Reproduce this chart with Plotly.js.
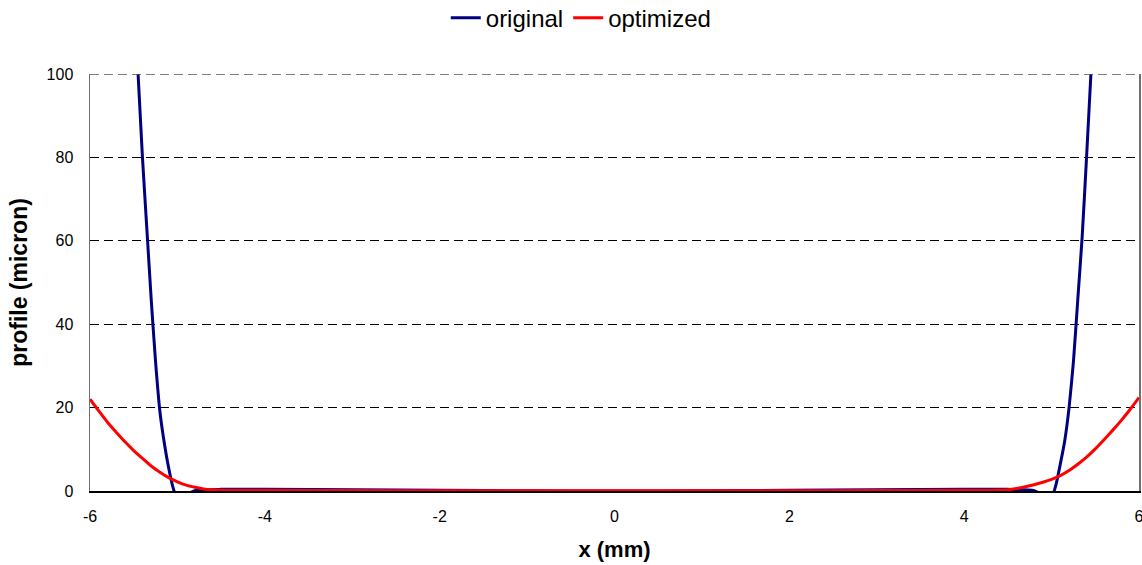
<!DOCTYPE html>
<html>
<head>
<meta charset="utf-8">
<script src="https://cdn.plot.ly/plotly-3.0.1.min.js"></script>
<style>html,body{margin:0;padding:0;background:#fff;}#chart{width:1142px;height:565px;}</style>
</head>
<body>
<div id="chart"></div>
<script>
// original profile (micron) vs x (mm)
var xOriginal = [-5.5, -5.45, -5.4, -5.35, -5.3, -5.25, -5.2, -5.15, -5.1, -5.05, -5.0, -4.9, -4.8, -4.5, -4.0, -3.0, -2.0, -1.0, 0,
                 1.0, 2.0, 3.0, 4.0, 4.5, 4.8, 4.9, 5.0, 5.05, 5.1, 5.15, 5.2, 5.25, 5.3, 5.35, 5.4, 5.45, 5.5];
var yOriginal = [118, 100, 80, 63, 46, 31, 19, 11.5, 5.5, 0.8, -2, -1, 0.1, 0.4, 0.4, 0.3, 0.15, 0.05, 0,
                 0.05, 0.15, 0.3, 0.4, 0.4, 0.1, -1, -1.5, 1.5, 6.5, 12, 20, 31, 46, 61, 80, 100, 118];
// optimized profile
var xOptimized = [-6.0, -5.9, -5.8, -5.7, -5.6, -5.5, -5.4, -5.3, -5.2, -5.1, -5.0, -4.9, -4.8, -4.7, -4.6, -4.5, -4.0, -3.0, -2.0, -1.0, 0,
                  1.0, 2.0, 3.0, 4.0, 4.5, 4.6, 4.7, 4.8, 4.9, 5.0, 5.1, 5.2, 5.3, 5.4, 5.5, 5.6, 5.7, 5.8, 5.9, 6.0];
var yOptimized = [22.0, 19.2, 16.5, 14.1, 11.8, 9.7, 7.8, 6.0, 4.5, 3.2, 2.2, 1.4, 0.9, 0.5, 0.3, 0.2, 0.15, 0.1, 0.08, 0.05, 0.05,
                  0.05, 0.08, 0.1, 0.15, 0.3, 0.6, 1.0, 1.5, 2.1, 2.8, 3.7, 4.9, 6.4, 8.1, 10.1, 12.3, 14.6, 17.0, 19.6, 22.4];
var xTicks = [-6, -4, -2, 0, 2, 4, 6];
var yTicks = [0, 20, 40, 60, 80, 100];

var font = 'Arial, "Liberation Sans", sans-serif';
var traces = [
  {x: xOriginal, y: yOriginal, name: 'original', type: 'scatter', mode: 'lines',
   line: {color: '#000080', width: 3, shape: 'spline', smoothing: 0.5}},
  {x: xOptimized, y: yOptimized, name: 'optimized', type: 'scatter', mode: 'lines',
   line: {color: '#ff0000', width: 3, shape: 'spline', smoothing: 0.5}}
];
var yTop = yTicks[yTicks.length - 1];
var layout = {
  width: 1142, height: 565,
  margin: {l: 90, r: 3, t: 74, b: 74},
  paper_bgcolor: '#fff', plot_bgcolor: '#fff',
  font: {family: font, color: '#000', size: 16},
  showlegend: true,
  legend: {orientation: 'h', xref: 'container', x: 0.509, xanchor: 'center',
           yref: 'container', y: 0.968, yanchor: 'middle',
           font: {size: 24, family: font}, itemwidth: 30, tracegroupgap: 0},
  xaxis: {range: [-6, 6], tickvals: xTicks, ticktext: xTicks.map(String),
          showgrid: false, zeroline: false, showline: true, linecolor: '#000', linewidth: 1.5,
          ticks: '', tickfont: {size: 16, family: font}, ticklabelstandoff: 10,
          ticklabeloverflow: 'allow',
          title: {text: '<b>x (mm)</b>', font: {size: 22, family: font}, standoff: 18}},
  yaxis: {range: [0, yTop], tickvals: yTicks, ticktext: yTicks.map(String),
          showgrid: true, gridcolor: '#000', griddash: '9px,5px', gridwidth: 1,
          zeroline: false, showline: true, linecolor: '#707070', linewidth: 1.5, mirror: true,
          ticks: 'inside', ticklen: 5, tickcolor: '#000',
          tickfont: {size: 16, family: font}, ticklabelstandoff: 12,
          title: {text: '<b>profile (micron)</b>', font: {size: 23, family: font}, standoff: 12}},
  shapes: [{type: 'line', xref: 'paper', x0: 0, x1: 1, yref: 'y', y0: yTop, y1: yTop,
            line: {color: '#555', width: 1.5, dash: '9px,5px'}, layer: 'above'}]
};
Plotly.newPlot('chart', traces, layout, {displayModeBar: false, staticPlot: true});
</script>
</body>
</html>
